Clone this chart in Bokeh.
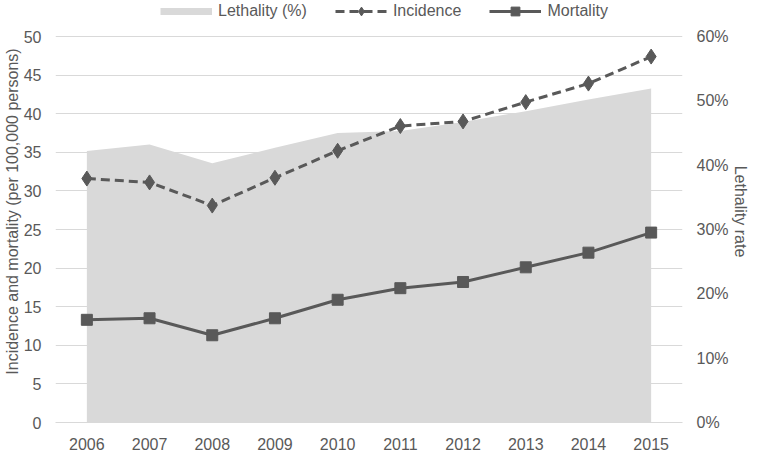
from bokeh.plotting import figure
from bokeh.models import (Range1d, LinearAxis, FixedTicker, PrintfTickFormatter,
                          Legend, LegendItem, ColumnDataSource)
from bokeh.embed import file_html
from bokeh.resources import INLINE

years = [2006, 2007, 2008, 2009, 2010, 2011, 2012, 2013, 2014, 2015]
incidence = [31.6, 31.1, 28.1, 31.7, 35.2, 38.4, 39.0, 41.5, 43.9, 47.4]
mortality = [13.3, 13.5, 11.3, 13.5, 15.9, 17.4, 18.2, 20.1, 22.0, 24.6]
lethality = [42.2, 43.2, 40.3, 42.7, 45.0, 45.3, 46.7, 48.4, 50.2, 51.9]
left_ticks = [0, 5, 10, 15, 20, 25, 30, 35, 40, 45, 50]
right_ticks = [0, 10, 20, 30, 40, 50, 60]
left_max = 50
right_max = 60

FONT = "Liberation Sans"
FS = "16px"
TXT = "#595959"
GRID = "#d9d9d9"
LINE = "#595959"

FH = 422          # frame height incl. legend headroom (px)
HEADROOM = 36     # px above the top gridline reserved for the legend
scale = FH / (FH - HEADROOM)

src = ColumnDataSource(dict(year=years, inc=incidence, mort=mortality, leth=lethality))

p = figure(width=751, frame_height=FH, output_backend="svg", toolbar_location=None,
           x_range=Range1d(2005.5, 2015.5), y_range=Range1d(0, left_max * scale),
           min_border_left=30, min_border_right=30, min_border_top=0, min_border_bottom=20)
p.outline_line_color = None
p.background_fill_color = "white"
p.border_fill_color = "white"

p.extra_y_ranges = {"leth": Range1d(0, right_max * scale)}

area = p.varea(x="year", y1=0, y2="leth", source=src, y_range_name="leth",
               fill_color=GRID, fill_alpha=1.0)

inc_line = p.line("year", "inc", source=src, line_color=LINE, line_width=3, line_dash="9 5")
inc_pts = p.scatter("year", "inc", source=src, marker="diamond", size=15,
                    fill_color=LINE, line_color=LINE)
mort_line = p.line("year", "mort", source=src, line_color=LINE, line_width=3)
mort_pts = p.scatter("year", "mort", source=src, marker="square", size=11,
                     fill_color=LINE, line_color=LINE)

# legend-only swatch for the lethality area (thin band, as in the reference);
# a single NaN point so that nothing is drawn in the plot itself
leth_key = p.line(x=[float("nan")], y=[float("nan")], line_color=GRID, line_width=7)

# axes styling
for ax in [p.xaxis[0], p.yaxis[0]]:
    ax.major_label_text_font = FONT
    ax.major_label_text_font_size = FS
    ax.major_label_text_color = TXT
    ax.major_tick_line_color = None
    ax.minor_tick_line_color = None

p.xaxis.ticker = FixedTicker(ticks=years)
p.xaxis.axis_line_color = GRID
p.xaxis.major_label_standoff = 9

p.yaxis.ticker = FixedTicker(ticks=left_ticks)
p.yaxis.axis_line_color = None
p.yaxis.axis_label = "Incidence and mortality (per 100,000 persons)"
p.yaxis.axis_label_text_font = FONT
p.yaxis.axis_label_text_font_size = FS
p.yaxis.axis_label_text_font_style = "normal"
p.yaxis.axis_label_text_color = TXT
p.yaxis.axis_label_standoff = 0
p.yaxis.major_label_standoff = 8

ry = LinearAxis(y_range_name="leth", ticker=FixedTicker(ticks=right_ticks),
                formatter=PrintfTickFormatter(format="%d%%"))
ry.axis_line_color = None
ry.major_tick_line_color = None
ry.minor_tick_line_color = None
ry.major_label_text_font = FONT
ry.major_label_text_font_size = FS
ry.major_label_text_color = TXT
ry.major_label_standoff = 8
ry.axis_label = "Lethality rate"
ry.axis_label_text_font = FONT
ry.axis_label_text_font_size = FS
ry.axis_label_text_font_style = "normal"
ry.axis_label_text_color = TXT
ry.axis_label_standoff = 0
p.add_layout(ry, "right")

p.xgrid.grid_line_color = None
p.ygrid.grid_line_color = GRID
p.ygrid.grid_line_width = 1

legend = Legend(items=[
    LegendItem(label="Lethality (%)", renderers=[leth_key]),
    LegendItem(label="Incidence", renderers=[inc_line, inc_pts]),
    LegendItem(label="Mortality", renderers=[mort_line, mort_pts]),
], orientation="horizontal", location=(105, FH - 22))
legend.label_text_font = FONT
legend.label_text_font_size = FS
legend.label_text_color = TXT
legend.glyph_width = 52
legend.glyph_height = 22
legend.spacing = 28
legend.padding = 0
legend.margin = 0
legend.label_standoff = 6
legend.border_line_color = None
legend.background_fill_alpha = 0
p.add_layout(legend, "center")

open("out.html", "w").write(file_html(p, INLINE))
